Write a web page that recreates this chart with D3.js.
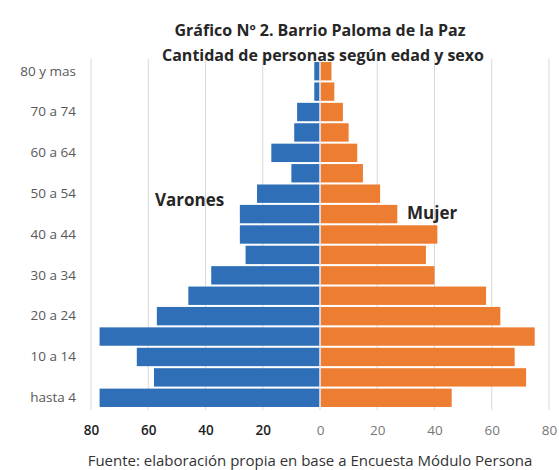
<!DOCTYPE html>
<html>
<head>
<meta charset="utf-8">
<script src="https://cdn.jsdelivr.net/npm/d3@7"></script>
<style>
  body { margin: 0; background: #fff; }
  text { font-family: "Open Sans", "Noto Sans", sans-serif; }
</style>
</head>
<body>
<svg id="chart" width="559" height="470"></svg>
<script>
// age groups, bottom to top
var ages = ["hasta 4", "5 a 9", "10 a 14", "15 a 19", "20 a 24", "25 a 29", "30 a 34",
    "35 a 39", "40 a 44", "45 a 49", "50 a 54", "55 a 59", "60 a 64", "65 a 69",
    "70 a 74", "75 a 79", "80 y mas"];
var shownAges = ["hasta 4", "10 a 14", "20 a 24", "30 a 34", "40 a 44", "50 a 54",
    "60 a 64", "70 a 74", "80 y mas"];
var varones = [77, 58, 64, 77, 57, 46, 38, 26, 28, 28, 22, 10, 17, 9, 8, 2, 2];
var mujer = [46, 72, 68, 75, 63, 58, 40, 37, 41, 27, 21, 15, 13, 10, 8, 5, 4];
var xTicks = [-80, -60, -40, -20, 0, 20, 40, 60, 80];

var svg = d3.select("#chart"),
    margin = { top: 61, right: 10, bottom: 62, left: 91 },
    width = 549 - margin.left,
    height = +svg.attr("height") - margin.top - margin.bottom;

var x = d3.scaleLinear().domain([-80, 80]).range([0, width]);
var y = d3.scaleBand().domain(ages.slice().reverse()).range([0, height]).paddingInner(0.1).paddingOuter(0.05);

var g = svg.append("g")
    .attr("transform", "translate(" + margin.left + "," + margin.top + ")");

// grid
g.selectAll(".grid")
    .data(xTicks)
    .enter().append("line")
    .attr("class", "grid")
    .attr("x1", function (d) { return x(d); })
    .attr("x2", function (d) { return x(d); })
    .attr("y1", -2)
    .attr("y2", height + 2)
    .attr("stroke", "#d9d9d9")
    .attr("stroke-width", 1);

// bars
g.selectAll(".bar-v")
    .data(ages)
    .enter().append("rect")
    .attr("class", "bar-v")
    .attr("x", function (d, i) { return x(-varones[i]); })
    .attr("y", function (d) { return y(d); })
    .attr("width", function (d, i) { return x(0) - x(-varones[i]); })
    .attr("height", y.bandwidth())
    .attr("fill", "#2e6fb7");

g.selectAll(".bar-m")
    .data(ages)
    .enter().append("rect")
    .attr("class", "bar-m")
    .attr("x", x(0))
    .attr("y", function (d) { return y(d); })
    .attr("width", function (d, i) { return x(mujer[i]) - x(0); })
    .attr("height", y.bandwidth())
    .attr("fill", "#ed7d31");

// zero line
g.append("line")
    .attr("x1", x(0)).attr("x2", x(0))
    .attr("y1", 0).attr("y2", height)
    .attr("stroke", "#e8eef6")
    .attr("stroke-width", 1.5);

// y labels
var yAxis = g.append("g")
    .call(d3.axisLeft(y).tickValues(shownAges).tickSize(0).tickPadding(15));
yAxis.select(".domain").remove();
yAxis.selectAll("text")
    .attr("font-family", "Open Sans, sans-serif")
    .attr("font-size", 13.5)
    .attr("fill", "#595959");

// x labels
var xAxis = g.append("g")
    .attr("transform", "translate(0," + height + ")")
    .call(d3.axisBottom(x).tickValues(xTicks).tickSize(0).tickPadding(17)
        .tickFormat(function (d) { return Math.abs(d); }));
xAxis.select(".domain").remove();
xAxis.selectAll("text")
    .attr("font-family", "Open Sans, sans-serif")
    .attr("font-size", 13.5)
    .attr("font-weight", function (d) { return d < 0 ? "600" : "400"; })
    .attr("fill", function (d) { return d < 0 ? "#222" : "#777"; });

// title
svg.append("text")
    .attr("x", 320).attr("y", 36)
    .attr("text-anchor", "middle")
    .attr("font-size", 16)
    .attr("font-weight", "bold")
    .attr("fill", "#262626")
    .text("Gráfico Nº 2. Barrio Paloma de la Paz");
svg.append("text")
    .attr("x", 323).attr("y", 61)
    .attr("text-anchor", "middle")
    .attr("font-size", 16)
    .attr("font-weight", "bold")
    .attr("fill", "#262626")
    .text("Cantidad de personas según edad y sexo");

// series labels
svg.append("text")
    .attr("x", 155).attr("y", 206)
    .attr("font-size", 17)
    .attr("font-weight", "bold")
    .attr("fill", "#262626")
    .text("Varones");
svg.append("text")
    .attr("x", 407).attr("y", 219)
    .attr("font-size", 17)
    .attr("font-weight", "bold")
    .attr("fill", "#262626")
    .text("Mujer");

// source
svg.append("text")
    .attr("x", 310).attr("y", 466)
    .attr("text-anchor", "middle")
    .attr("font-size", 15)
    .attr("fill", "#333")
    .text("Fuente: elaboración propia en base a Encuesta Módulo Persona");
</script>
</body>
</html>
